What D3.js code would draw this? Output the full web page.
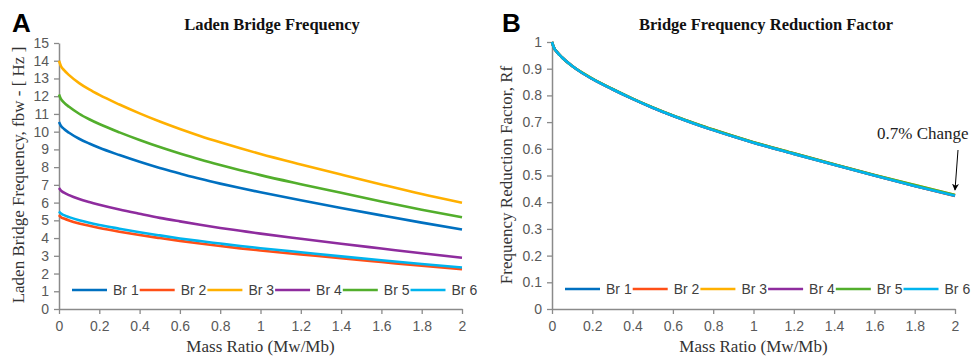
<!DOCTYPE html>
<html>
<head>
<meta charset="utf-8">
<script src="https://cdn.jsdelivr.net/npm/d3@7"></script>
<style>
  body { margin: 0; background: #fff; }
  svg { display: block; }
</style>
</head>
<body>
<svg id="chart" width="971" height="358"></svg>
<script>
// Mass ratio sample points (Mw/Mb)
const massRatio = [0, 0.01, 0.025, 0.05, 0.1, 0.15, 0.2, 0.3, 0.4, 0.5, 0.6, 0.7, 0.8, 0.9, 1.0, 1.2, 1.4, 1.6, 1.8, 2.0];

const seriesNames = ["Br 1", "Br 2", "Br 3", "Br 4", "Br 5", "Br 6"];
const seriesColors = ["#0070C0", "#FF4F17", "#FFB000", "#8E2C9E", "#52AE2C", "#00B4EE"];

// Laden bridge frequency fbw [Hz]
const ladenBr1 = [10.55, 10.32, 10.15, 9.94, 9.60, 9.33, 9.09, 8.68, 8.30, 7.95, 7.64, 7.34, 7.07, 6.82, 6.58, 6.13, 5.70, 5.28, 4.87, 4.48];
const ladenBr2 = [5.30, 5.18, 5.10, 4.99, 4.82, 4.69, 4.57, 4.36, 4.17, 4.00, 3.84, 3.69, 3.55, 3.42, 3.30, 3.08, 2.86, 2.65, 2.44, 2.25];
const ladenBr3 = [14.0, 13.69, 13.47, 13.19, 12.74, 12.38, 12.07, 11.53, 11.03, 10.57, 10.15, 9.76, 9.40, 9.06, 8.74, 8.15, 7.58, 7.02, 6.48, 5.99];
const ladenBr4 = [6.82, 6.67, 6.56, 6.42, 6.20, 6.03, 5.88, 5.61, 5.37, 5.14, 4.94, 4.75, 4.57, 4.41, 4.25, 3.96, 3.68, 3.41, 3.14, 2.89];
const ladenBr5 = [12.1, 11.83, 11.64, 11.40, 11.01, 10.70, 10.43, 9.96, 9.53, 9.13, 8.77, 8.43, 8.12, 7.83, 7.55, 7.04, 6.55, 6.06, 5.60, 5.17];
const ladenBr6 = [5.50, 5.38, 5.29, 5.18, 5.00, 4.86, 4.74, 4.53, 4.33, 4.15, 3.98, 3.83, 3.69, 3.55, 3.43, 3.20, 2.97, 2.75, 2.54, 2.34];

// Frequency reduction factor Rf
const rfBr1 = [1.0, 0.978, 0.962, 0.942, 0.910, 0.884, 0.862, 0.823, 0.787, 0.754, 0.724, 0.696, 0.670, 0.646, 0.623, 0.581, 0.540, 0.500, 0.461, 0.4240];
const rfBr2 = [1.0, 0.978, 0.962, 0.942, 0.910, 0.884, 0.862, 0.823, 0.787, 0.754, 0.724, 0.696, 0.670, 0.646, 0.623, 0.581, 0.540, 0.500, 0.461, 0.4236];
const rfBr3 = [1.0, 0.978, 0.962, 0.942, 0.910, 0.885, 0.863, 0.824, 0.788, 0.755, 0.725, 0.698, 0.672, 0.648, 0.625, 0.583, 0.542, 0.502, 0.464, 0.4268];
const rfBr4 = [1.0, 0.978, 0.962, 0.942, 0.910, 0.884, 0.862, 0.823, 0.787, 0.754, 0.724, 0.697, 0.671, 0.647, 0.624, 0.582, 0.541, 0.501, 0.462, 0.4250];
const rfBr5 = [1.0, 0.978, 0.962, 0.942, 0.910, 0.885, 0.863, 0.824, 0.788, 0.755, 0.725, 0.698, 0.672, 0.648, 0.625, 0.583, 0.542, 0.502, 0.464, 0.4266];
const rfBr6 = [1.0, 0.978, 0.962, 0.942, 0.910, 0.884, 0.862, 0.823, 0.787, 0.754, 0.724, 0.696, 0.670, 0.646, 0.623, 0.581, 0.540, 0.500, 0.461, 0.4238];

const ladenSeries = [ladenBr1, ladenBr2, ladenBr3, ladenBr4, ladenBr5, ladenBr6];
const rfSeries = [rfBr1, rfBr2, rfBr3, rfBr4, rfBr5, rfBr6];

// Tick values
const xTicks = [0, 0.2, 0.4, 0.6, 0.8, 1, 1.2, 1.4, 1.6, 1.8, 2];
const yTicksA = [0, 1, 2, 3, 4, 5, 6, 7, 8, 9, 10, 11, 12, 13, 14, 15];
const yTicksB = [0, 0.1, 0.2, 0.3, 0.4, 0.5, 0.6, 0.7, 0.8, 0.9, 1];

const svg = d3.select("#chart");
const axisColor = "#8A8A8A";
const tickTextColor = "#595959";
const serif = "'Liberation Serif', 'Times New Roman', serif";
const sans = "'Liberation Sans', Arial, sans-serif";

function drawPanel(cfg) {
  const x = d3.scaleLinear().domain([0, 2]).range([cfg.left, cfg.right]);
  const y = d3.scaleLinear().domain(cfg.yDomain).range([cfg.bottom, cfg.top]);
  const fmt = d3.format("~g");

  // axes
  const gx = svg.append("g").attr("transform", `translate(0,${cfg.bottom})`)
    .call(d3.axisBottom(x).tickValues(xTicks).tickFormat(fmt).tickSize(5).tickPadding(7).tickSizeOuter(0));
  const gy = svg.append("g").attr("transform", `translate(${cfg.left},0)`)
    .call(d3.axisLeft(y).tickValues(cfg.yTicks).tickFormat(fmt).tickSize(5).tickPadding(5).tickSizeOuter(0));
  [gx, gy].forEach(g => {
    g.select(".domain").attr("stroke", axisColor).attr("stroke-width", 1.5);
    g.selectAll(".tick line").attr("stroke", axisColor).attr("stroke-width", 1.3);
    g.selectAll(".tick text").attr("fill", tickTextColor)
      .style("font-family", sans).style("font-size", "14px");
  });

  // series lines
  const line = d3.line()
    .x((d, i) => x(massRatio[i]))
    .y(d => y(d))
    .curve(d3.curveMonotoneX);
  cfg.series.forEach((vals, i) => {
    svg.append("path")
      .datum(vals)
      .attr("fill", "none")
      .attr("stroke", seriesColors[i])
      .attr("stroke-width", 2.6)
      .attr("stroke-linejoin", "round")
      .attr("d", line);
  });

  // legend
  const lg = svg.append("g");
  seriesNames.forEach((name, i) => {
    const tx = cfg.legendX + i * 67.7;
    lg.append("line")
      .attr("x1", tx - 41).attr("x2", tx - 6)
      .attr("y1", cfg.legendY).attr("y2", cfg.legendY)
      .attr("stroke", seriesColors[i]).attr("stroke-width", 2.6);
    lg.append("text")
      .attr("x", tx).attr("y", cfg.legendY)
      .attr("dy", "0.35em")
      .attr("fill", "#404040")
      .style("font-family", sans).style("font-size", "14px")
      .text(name);
  });

  // title
  svg.append("text")
    .attr("x", cfg.titleX).attr("y", 30)
    .attr("text-anchor", "middle")
    .style("font-family", serif).style("font-weight", "bold").style("font-size", "16.5px")
    .attr("fill", "#111")
    .text(cfg.title);

  // panel letter
  svg.append("text")
    .attr("x", cfg.letterX).attr("y", 32)
    .style("font-family", sans).style("font-weight", "bold").style("font-size", "26px")
    .attr("fill", "#000")
    .text(cfg.letter);

  // axis titles
  svg.append("text")
    .attr("x", (cfg.left + cfg.right) / 2).attr("y", 352)
    .attr("text-anchor", "middle")
    .style("font-family", serif).style("font-size", "17px")
    .attr("fill", "#333")
    .text("Mass Ratio (Mw/Mb)");
  svg.append("text")
    .attr("transform", `translate(${cfg.yLabelX},${cfg.yLabelY}) rotate(-90)`)
    .attr("text-anchor", "middle")
    .style("font-family", serif).style("font-size", "17px")
    .attr("fill", "#333")
    .text(cfg.yLabel);

  return { x, y };
}

drawPanel({
  left: 59, right: 462, top: 43, bottom: 309,
  yDomain: [0, 15], yTicks: yTicksA,
  series: ladenSeries,
  legendX: 113, legendY: 290,
  title: "Laden Bridge Frequency", titleX: 272,
  letter: "A", letterX: 12,
  yLabel: "Laden Bridge Frequency, fbw - [ Hz ]", yLabelX: 24, yLabelY: 175
});

const pB = drawPanel({
  left: 552, right: 955, top: 42, bottom: 309,
  yDomain: [0, 1], yTicks: yTicksB,
  series: rfSeries,
  legendX: 606, legendY: 289,
  title: "Bridge Frequency Reduction Factor", titleX: 766,
  letter: "B", letterX: 502,
  yLabel: "Frequency Reduction Factor, Rf", yLabelX: 512, yLabelY: 175
});

// annotation at the end of the reduction curves
const endY = pB.y(rfBr3[rfBr3.length - 1]);
svg.append("defs").append("marker")
  .attr("id", "arrowhead")
  .attr("viewBox", "0 0 10 10")
  .attr("refX", 9).attr("refY", 5)
  .attr("markerWidth", 7).attr("markerHeight", 9)
  .attr("markerUnits", "userSpaceOnUse")
  .attr("orient", "auto")
  .append("path").attr("d", "M0,0 L10,5 L0,10 L3,5 Z").attr("fill", "#000");
svg.append("line")
  .attr("x1", 958).attr("y1", 150)
  .attr("x2", pB.x(2)).attr("y2", endY - 5)
  .attr("stroke", "#000").attr("stroke-width", 1)
  .attr("marker-end", "url(#arrowhead)");
svg.append("text")
  .attr("x", 877).attr("y", 139)
  .style("font-family", serif).style("font-size", "17px")
  .attr("fill", "#222")
  .text("0.7% Change");
</script>
</body>
</html>
